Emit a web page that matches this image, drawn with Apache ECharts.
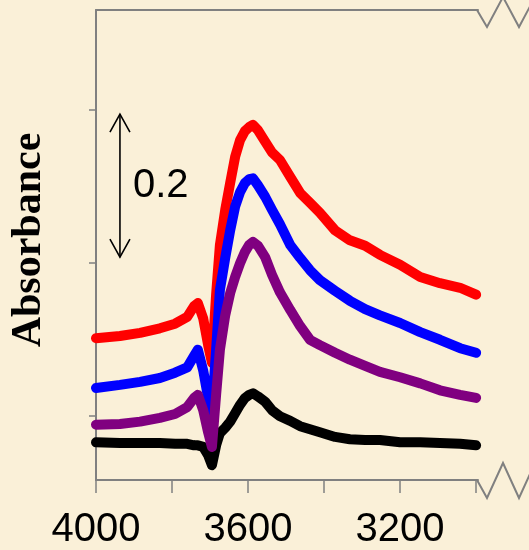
<!DOCTYPE html>
<html>
<head>
<meta charset="utf-8">
<style>
  html, body { margin: 0; padding: 0; background: #FAF0D8; }
  #chart { width: 529px; height: 550px; }
</style>
<script src="https://cdn.jsdelivr.net/npm/echarts@6/dist/echarts.min.js"></script>
</head>
<body>
<div id="chart"></div>
<script>
// IR difference spectra (wavenumber in cm-1, absorbance offset per trace)
const wavenumber = [4000, 3937, 3884, 3832, 3792, 3760, 3742, 3732, 3718, 3705, 3695, 3684, 3674, 3660, 3647, 3634, 3621, 3608, 3597, 3587, 3574, 3555, 3537, 3516, 3489, 3463, 3437, 3411, 3371, 3332, 3292, 3253, 3200, 3147, 3095, 3042, 3000];

const redTrace = [0.101, 0.104, 0.108, 0.114, 0.120, 0.129, 0.143, 0.147, 0.127, 0.092, 0.069, 0.158, 0.223, 0.269, 0.304, 0.338, 0.360, 0.372, 0.377, 0.380, 0.373, 0.358, 0.344, 0.334, 0.312, 0.291, 0.278, 0.265, 0.242, 0.229, 0.222, 0.210, 0.197, 0.181, 0.173, 0.167, 0.158];
const blueTrace = [0.036, 0.040, 0.044, 0.049, 0.056, 0.063, 0.078, 0.086, 0.059, 0.023, 0.005, 0.086, 0.164, 0.206, 0.242, 0.273, 0.292, 0.304, 0.309, 0.310, 0.301, 0.286, 0.269, 0.250, 0.223, 0.206, 0.190, 0.177, 0.163, 0.150, 0.139, 0.131, 0.121, 0.109, 0.099, 0.088, 0.082];
const purpleTrace = [-0.012, -0.011, -0.008, -0.003, 0.002, 0.011, 0.023, 0.027, 0.007, -0.022, -0.041, 0.027, 0.086, 0.131, 0.160, 0.181, 0.199, 0.214, 0.223, 0.227, 0.222, 0.207, 0.184, 0.161, 0.138, 0.117, 0.099, 0.092, 0.082, 0.073, 0.065, 0.057, 0.050, 0.042, 0.033, 0.027, 0.023];
const blackTrace = [-0.035, -0.036, -0.036, -0.036, -0.037, -0.037, -0.039, -0.039, -0.041, -0.052, -0.065, -0.039, -0.023, -0.016, -0.008, 0.003, 0.014, 0.023, 0.027, 0.029, 0.025, 0.018, 0.007, -0.001, -0.007, -0.014, -0.018, -0.022, -0.028, -0.031, -0.032, -0.032, -0.035, -0.035, -0.036, -0.037, -0.039];

const xTicks = [3000, 3200, 3400, 3600, 3800, 4000];
const xTickLabels = [3200, 3600, 4000];
const yTicks = [0, 0.2, 0.4];

// scale bar: vertical double arrow labelled with its absorbance span
const scaleBarLabel = '0.2';
const scaleBarX = 3937;
const scaleBarFrom = 0.207;
const scaleBarTo = 0.394;

const xRange = [2995, 4000];
const yRange = [-0.0843, 0.5301];

const traces = [
  { name: 'black', color: '#000000', values: blackTrace },
  { name: 'red', color: '#FF0000', values: redTrace },
  { name: 'blue', color: '#0000FF', values: blueTrace },
  { name: 'purple', color: '#800080', values: purpleTrace }
];

const axisGray = '#808080';
const chart = echarts.init(document.getElementById('chart'), null, { renderer: 'canvas' });

const option = {
  backgroundColor: '#FAF0D8',
  animation: false,
  grid: { left: 96, right: 51, top: 10, bottom: 70, containLabel: false },
  xAxis: [
    {
      type: 'value', inverse: true, min: xRange[0], max: xRange[1],
      position: 'bottom',
      axisLine: { show: true, onZero: false, lineStyle: { color: axisGray, width: 2 } },
      axisTick: { show: true, inside: false, length: 13, customValues: xTicks, lineStyle: { color: axisGray, width: 1.5 } },
      axisLabel: {
        show: true, customValues: xTickLabels, margin: 30, fontSize: 40, color: '#000',
        fontFamily: 'Liberation Sans, Arial, sans-serif',
        formatter: v => String(v)
      },
      splitLine: { show: false }
    },
    {
      type: 'value', inverse: true, min: xRange[0], max: xRange[1],
      position: 'top',
      axisLine: { show: true, onZero: false, lineStyle: { color: axisGray, width: 2 } },
      axisTick: { show: false }, axisLabel: { show: false }, splitLine: { show: false }
    }
  ],
  yAxis: {
    type: 'value', min: yRange[0], max: yRange[1],
    axisLine: { show: true, onZero: false, lineStyle: { color: axisGray, width: 2 } },
    axisTick: { show: true, inside: false, length: 7, customValues: yTicks, lineStyle: { color: axisGray, width: 1.5 } },
    axisLabel: { show: false },
    splitLine: { show: false }
  },
  series: traces.map(t => ({
    name: t.name,
    type: 'line',
    xAxisIndex: 0,
    showSymbol: false,
    symbol: 'none',
    silent: true,
    data: wavenumber.map((w, i) => [w, t.values[i]]),
    lineStyle: { color: t.color, width: 10, cap: 'round', join: 'round' }
  }))
};
chart.setOption(option);

// decorations: axis-break zigzags, scale bar and the y-axis title
const xEnd = chart.convertToPixel({ xAxisIndex: 0 }, xRange[0]);
const yBottom = chart.convertToPixel({ yAxisIndex: 0 }, yRange[0]);
const yTop = chart.convertToPixel({ yAxisIndex: 0 }, yRange[1]);
const barX = chart.convertToPixel({ xAxisIndex: 0 }, scaleBarX);
const barTop = chart.convertToPixel({ yAxisIndex: 0 }, scaleBarTo);
const barBottom = chart.convertToPixel({ yAxisIndex: 0 }, scaleBarFrom);

const breakStyle = { stroke: axisGray, lineWidth: 2, fill: null };
const arrowStyle = { stroke: '#000', lineWidth: 1.6, fill: null };

chart.setOption({
  graphic: [
    { type: 'polyline', shape: { points: [[xEnd - 1, yBottom], [xEnd + 9, yBottom + 18], [xEnd + 25, yBottom - 17], [xEnd + 41, yBottom + 18], [xEnd + 57, yBottom - 17]] }, style: breakStyle, silent: true },
    { type: 'polyline', shape: { points: [[xEnd - 1, yTop], [xEnd + 9, yTop + 17], [xEnd + 25, yTop - 13], [xEnd + 41, yTop + 17], [xEnd + 57, yTop - 13]] }, style: breakStyle, silent: true },
    { type: 'line', shape: { x1: barX, y1: barTop, x2: barX, y2: barBottom }, style: arrowStyle, silent: true },
    { type: 'polyline', shape: { points: [[barX - 10, barTop + 18], [barX, barTop], [barX + 10, barTop + 18]] }, style: arrowStyle, silent: true },
    { type: 'polyline', shape: { points: [[barX - 10, barBottom - 18], [barX, barBottom], [barX + 10, barBottom - 18]] }, style: arrowStyle, silent: true },
    { type: 'text', x: barX + 13, y: (barTop + barBottom) / 2, silent: true,
      style: { text: scaleBarLabel, fill: '#000', font: '40px "Liberation Sans", Arial, sans-serif', textAlign: 'left', textVerticalAlign: 'middle' } },
    { type: 'text', x: 29, y: 240, rotation: Math.PI / 2, silent: true,
      style: { text: 'Absorbance', fill: '#000', font: 'bold 42px "Liberation Serif", "Times New Roman", serif', textAlign: 'center', textVerticalAlign: 'middle' } }
  ]
});
</script>
</body>
</html>
